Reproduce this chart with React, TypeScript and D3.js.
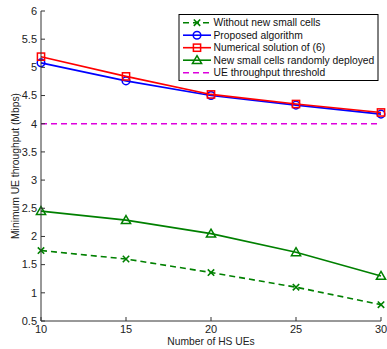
import React from 'react'
import * as d3 from 'd3'

// number of HS UEs
const hsUEs = [10, 15, 20, 25, 30]

// minimum UE throughput (Mbps) per method
const withoutNew = [1.75, 1.6, 1.36, 1.1, 0.79]
const proposed = [5.08, 4.76, 4.5, 4.33, 4.17]
const numerical = [5.19, 4.84, 4.52, 4.35, 4.2]
const randomDeploy = [2.45, 2.29, 2.05, 1.72, 1.3]
const threshold = 4

const yTicks = [0.5, 1, 1.5, 2, 2.5, 3, 3.5, 4, 4.5, 5, 5.5, 6]

const seriesNames = [
  'Without new small cells',
  'Proposed algorithm',
  'Numerical solution of (6)',
  'New small cells randomly deployed',
  'UE throughput threshold',
]

const W = 387, H = 349
const left = 41, right = 381, top = 11, bottom = 321
const font = 'Liberation Sans, Arial, Helvetica, sans-serif'

const xScale = d3.scaleLinear().domain([10, 30]).range([left, right])
const yScale = d3.scaleLinear().domain([0.5, 6]).range([bottom, top])

const green = '#008000'
const blue = '#0000ff'
const red = '#ff0000'
const magenta = '#dd00dd'

type Marker = 'x' | 'o' | 's' | '^' | null

function drawMarker(m: Marker, x: number, y: number, color: string, key: string) {
  if (m === 'x') {
    const r = 3.2
    return <path key={key} d={`M${x - r},${y - r}L${x + r},${y + r}M${x - r},${y + r}L${x + r},${y - r}`} stroke={color} strokeWidth={1.6} fill="none" />
  }
  if (m === 'o') return <circle key={key} cx={x} cy={y} r={3.8} stroke={color} strokeWidth={1.5} fill="none" />
  if (m === 's') return <rect key={key} x={x - 3.6} y={y - 3.6} width={7.2} height={7.2} stroke={color} strokeWidth={1.5} fill="none" />
  if (m === '^') return <path key={key} d={`M${x},${y - 4.5}L${x + 4.6},${y + 3.4}L${x - 4.6},${y + 3.4}Z`} stroke={color} strokeWidth={1.5} fill="none" />
  return null
}

const series = [
  { name: seriesNames[0], values: withoutNew, color: green, dash: '6,4', marker: 'x' as Marker },
  { name: seriesNames[1], values: proposed, color: blue, dash: undefined, marker: 'o' as Marker },
  { name: seriesNames[2], values: numerical, color: red, dash: undefined, marker: 's' as Marker },
  { name: seriesNames[3], values: randomDeploy, color: green, dash: undefined, marker: '^' as Marker },
]

const line = d3.line<number>()
  .x((_, i) => xScale(hsUEs[i]))
  .y(d => yScale(d))

export default function App() {
  const legendItems = [
    ...series.map(s => ({ name: s.name, color: s.color, dash: s.dash, marker: s.marker })),
    { name: seriesNames[4], color: magenta, dash: '6,4', marker: null as Marker },
  ]
  return (
    <svg width={W} height={H} style={{ position: 'absolute', left: 0, top: 0, background: '#fff' }} fontFamily={font}>
      {/* threshold */}
      <line x1={xScale(10)} x2={xScale(30)} y1={yScale(threshold)} y2={yScale(threshold)} stroke={magenta} strokeWidth={1.6} strokeDasharray="6,4" />
      {series.map(s => (
        <g key={s.name}>
          <path d={line(s.values) || ''} fill="none" stroke={s.color} strokeWidth={1.6} strokeDasharray={s.dash} />
          {s.values.map((v, i) => drawMarker(s.marker, xScale(hsUEs[i]), yScale(v), s.color, s.name + i))}
        </g>
      ))}
      {/* axes */}
      <line x1={left} x2={left} y1={top} y2={bottom} stroke="#333" strokeWidth={1} />
      <line x1={left} x2={right} y1={bottom} y2={bottom} stroke="#333" strokeWidth={1} />
      {yTicks.map(t => (
        <g key={t}>
          <line x1={left} x2={left + 4} y1={yScale(t)} y2={yScale(t)} stroke="#333" />
          <text x={left - 4} y={yScale(t)} dy="0.35em" textAnchor="end" fontSize={11} fill="#222">{t}</text>
        </g>
      ))}
      {hsUEs.map(t => (
        <g key={t}>
          <line x1={xScale(t)} x2={xScale(t)} y1={bottom} y2={bottom - 4} stroke="#333" />
          <text x={xScale(t)} y={bottom + 12} textAnchor="middle" fontSize={11} fill="#222">{t}</text>
        </g>
      ))}
      <text x={(left + right) / 2} y={345} textAnchor="middle" fontSize={10.3} fill="#222">Number of HS UEs</text>
      <text transform={`translate(15,${(top + bottom) / 2}) rotate(-90)`} textAnchor="middle" dy="0.35em" fontSize={10.3} fill="#222">Minimum UE throughput (Mbps)</text>
      {/* legend */}
      <rect x={179} y={14.5} width={199} height={66} fill="#fff" stroke="#000" strokeWidth={1} />
      {legendItems.map((it, i) => {
        const y = 22.7 + i * 12.5
        return (
          <g key={it.name}>
            <line x1={183} x2={211} y1={y} y2={y} stroke={it.color} strokeWidth={1.6} strokeDasharray={it.dash} />
            {drawMarker(it.marker, 197, y, it.color, 'lm' + i)}
            <text x={213.5} y={y} dy="0.35em" fontSize={10.3} fill="#111">{it.name}</text>
          </g>
        )
      })}
    </svg>
  )
}
